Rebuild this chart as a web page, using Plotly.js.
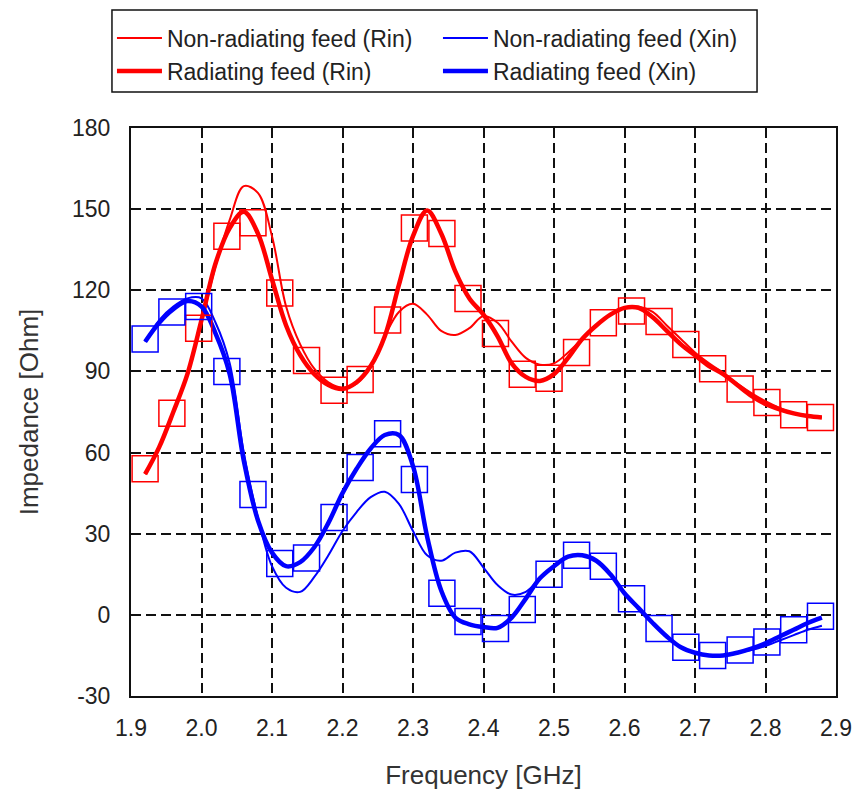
<!DOCTYPE html>
<html>
<head>
<meta charset="utf-8">
<script src="https://cdn.plot.ly/plotly-3.0.1.min.js"></script>
<style>html,body{margin:0;padding:0;background:#fff;}#chart{width:852px;height:793px;}</style>
</head>
<body>
<div id="chart"></div>
<script>
// Frequency grid for curves (GHz)
var freq = [1.92,1.94,1.96,1.98,2.00,2.02,2.04,2.06,2.08,2.10,2.12,2.14,2.16,2.18,2.20,2.22,2.24,2.26,2.28,2.30,2.32,2.34,2.36,2.38,2.40,2.42,2.44,2.46,2.48,2.50,2.52,2.54,2.56,2.58,2.60,2.62,2.64,2.66,2.68,2.70,2.72,2.74,2.76,2.78,2.80,2.82,2.84,2.86,2.88];

var nonRadRin = [52,62,75,89,108,129,146,158.5,156,140,114,100,91,86,84,85.5,92,103,112,115,111,105,103.5,106,110.5,108,101,95,92.5,93,97,102,107,111,113.5,114,112,107,102,97,93,89.5,85.5,82,79,76.5,74.5,73.5,73];
var radRin    = [52,62,75,89,109,130,143,149,141,124,107,96,89,85,83.5,86,92,103,122,140,149.5,141,127,117,111,103,93,88,86.5,89,95,102,107,111,113.5,113.5,110,105,100,96,92,89,85,81,78,76,74.5,73.5,73];

var nonRadXin = [101,109,114,117,117,108,93,60,36,18,10,8.5,14,22,31,38,43.5,45.5,41,31,22,20,23,23.5,17.5,11,7.5,8.5,13.5,18,21.5,22,20,15,8,2.5,-3,-8,-12,-14,-15,-15,-14,-13,-11.5,-9.5,-7.5,-5.5,-4];
var radXin    = [101,108,113,116,114,104,89,57,35,23,18,19.5,25,34,45,54,61.5,66.5,66.5,55,29,9,-1,-3.5,-4.5,-4.8,-1,6,13.5,18,21.5,22,20,15,8,2.5,-3,-8,-12,-14,-15,-15,-14,-12.5,-10.5,-8,-5.5,-3,-1];

// Square-marker sample points (radiating feed)
var sampFreq = [1.920,1.958,1.996,2.036,2.073,2.111,2.149,2.188,2.225,2.264,2.302,2.341,2.378,2.417,2.455,2.493,2.532,2.570,2.610,2.649,2.687,2.725,2.764,2.802,2.840,2.878];
var sampRin  = [54,74.5,106,140,145,119,94,83,87,109,143,141,117,104,89,87.5,97,108,112.3,108.5,100,91,83.5,78.5,74,73];
var sampXin  = [102,112,114,90,44.5,19,21,36,54.5,67,50,8,-2.5,-5,2,15,22,18,6,-5,-12,-15,-13,-10,-5.5,-0.5];

var xTicks = [1.9,2.0,2.1,2.2,2.3,2.4,2.5,2.6,2.7,2.8,2.9];
var yTicks = [-30,0,30,60,90,120,150,180];

var RED = '#ff0000', BLUE = '#0000ff';
var FONT = 'Liberation Sans, Arial, sans-serif';

var traces = [
  {x: freq, y: nonRadRin, mode: 'lines', name: 'Non-radiating feed (Rin)', line: {color: RED, width: 2, shape: 'spline'}},
  {x: freq, y: nonRadXin, mode: 'lines', name: 'Non-radiating feed (Xin)', line: {color: BLUE, width: 2, shape: 'spline'}},
  {x: freq, y: radRin, mode: 'lines', name: 'Radiating feed (Rin)', line: {color: RED, width: 4.5, shape: 'spline'}},
  {x: freq, y: radXin, mode: 'lines', name: 'Radiating feed (Xin)', line: {color: BLUE, width: 4.5, shape: 'spline'}},
  {x: sampFreq, y: sampRin, mode: 'markers', showlegend: false, marker: {symbol: 'square-open', size: 26, color: RED, line: {width: 1.5, color: RED}}},
  {x: sampFreq, y: sampXin, mode: 'markers', showlegend: false, marker: {symbol: 'square-open', size: 26, color: BLUE, line: {width: 1.5, color: BLUE}}}
];

var axisCommon = {
  showline: true, mirror: true, linecolor: '#111', linewidth: 2,
  showgrid: true, gridcolor: '#111', gridwidth: 1.8, griddash: '10px,5px',
  zeroline: false, ticks: '', tickfont: {family: FONT, size: 23, color: '#222'}
};

var layout = {
  width: 852, height: 793,
  margin: {l: 131, r: 16, t: 128, b: 97},
  paper_bgcolor: '#fff', plot_bgcolor: '#fff',
  font: {family: FONT, color: '#222'},
  showlegend: true,
  legend: {
    orientation: 'h', x: -0.027, xanchor: 'left', y: 1.196, yanchor: 'top',
    borderwidth: 0, bgcolor: 'rgba(0,0,0,0)',
    font: {family: FONT, size: 23, color: '#222'},
    entrywidth: 266, tracegroupgap: 0, itemwidth: 45
  },
  shapes: [{
    type: 'rect', xref: 'paper', yref: 'paper',
    x0: -0.027, x1: 0.888, y0: 1.0634, y1: 1.2077,
    line: {color: '#111', width: 1.5}, fillcolor: 'rgba(0,0,0,0)'
  }],
  xaxis: Object.assign({}, axisCommon, {
    range: [1.9, 2.9], tickvals: xTicks, ticktext: xTicks.map(function(v){return v.toFixed(1);}),
    ticklabelstandoff: 10,
    title: {text: 'Frequency [GHz]', font: {family: FONT, size: 26, color: '#333'}, standoff: 26}
  }),
  yaxis: Object.assign({}, axisCommon, {
    range: [-30, 180], tickvals: yTicks, ticktext: yTicks.map(String),
    ticklabelstandoff: 14,
    title: {text: 'Impedance [Ohm]', font: {family: FONT, size: 26, color: '#333'}, standoff: 26}
  })
};

Plotly.newPlot('chart', traces, layout, {displayModeBar: false});
</script>
</body>
</html>
